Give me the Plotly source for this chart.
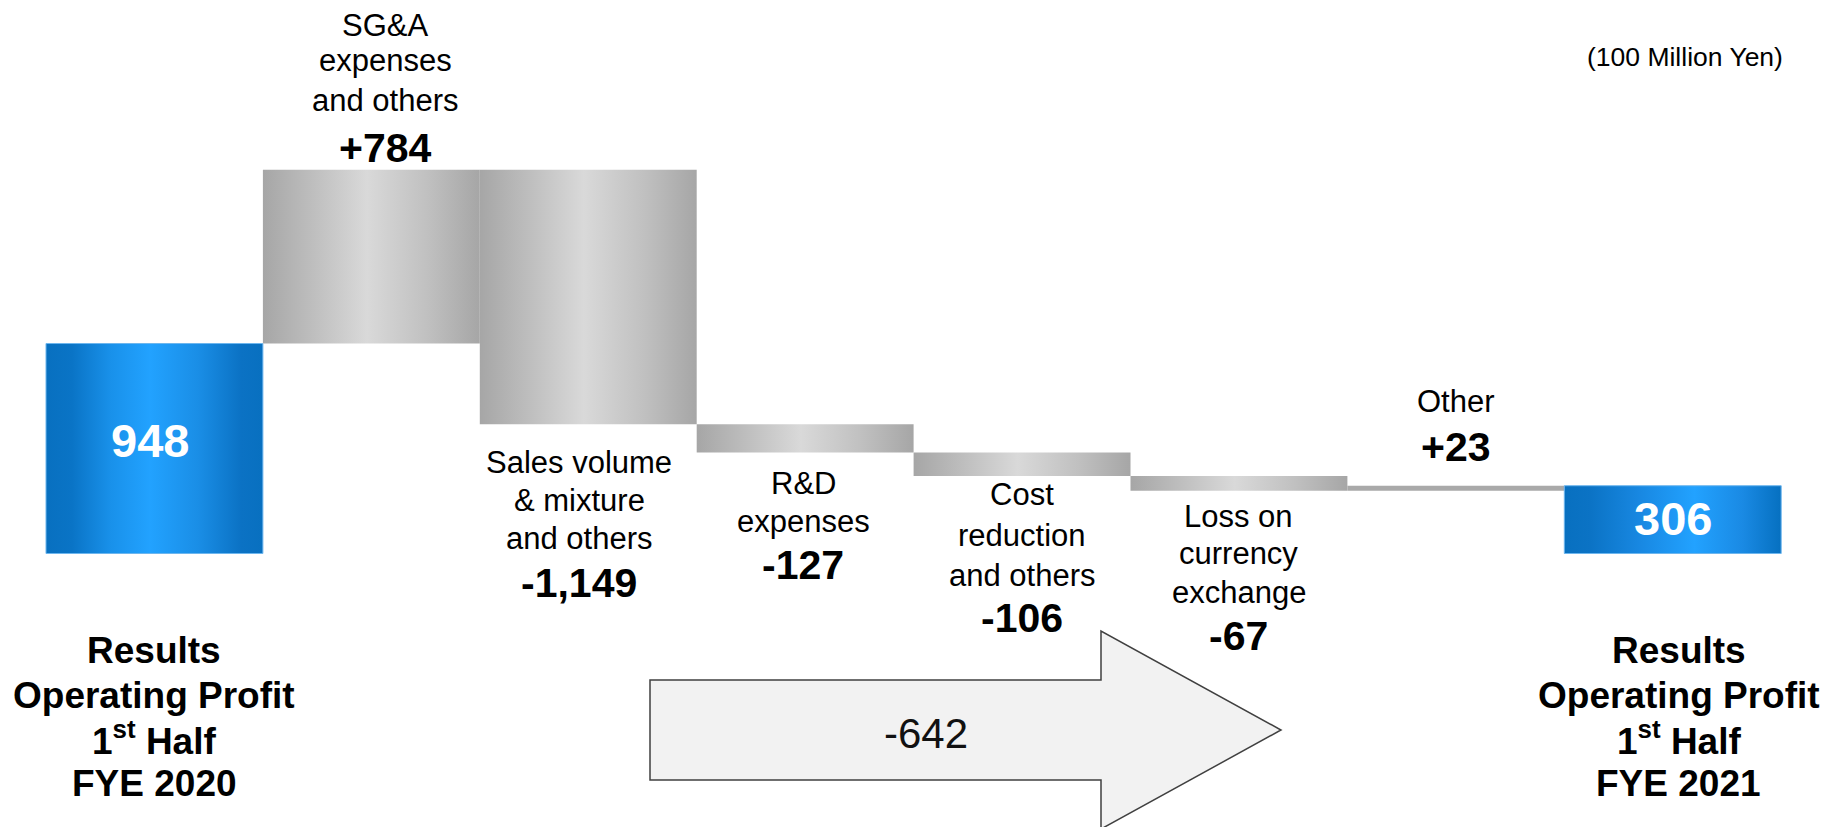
import plotly.graph_objects as go

# ---------------- data ----------------
start_name = "Results<br>Operating Profit<br>1<sup>st</sup> Half<br>FYE 2020"
end_name = "Results<br>Operating Profit<br>1<sup>st</sup> Half<br>FYE 2021"
start_value = 948
step_labels = [
    ["SG&A", "expenses", "and others"],
    ["Sales volume", "& mixture", "and others"],
    ["R&D", "expenses"],
    ["Cost", "reduction", "and others"],
    ["Loss on", "currency", "exchange"],
    ["Other"],
]
step_values = [784, -1149, -127, -106, -67, 23]
end_value = 306
total_change = -642
unit_label = "(100 Million Yen)"

# ---------------- styles ----------------
FONT = "Liberation Sans, Arial, Helvetica, sans-serif"
W, H = 1838, 827
BLUE_START = [[0, "#0870c0"], [0.12, "#0a74c6"], [0.3, "#1991ea"], [0.48, "#22a2ff"],
              [0.7, "#1a8ee6"], [0.9, "#0b72c4"], [1, "#0870c0"]]
BLUE_END = [[0, "#0870c0"], [0.12, "#0b73c5"], [0.35, "#1888e2"], [0.6, "#22a2ff"],
            [0.82, "#1a8ae4"], [1, "#0670c0"]]
GRAY = [[0, "#a6a6a6"], [0.22, "#bdbdbd"], [0.48, "#d9d9d9"], [0.76, "#c0c0c0"], [1, "#a6a6a6"]]

# pixel geometry of the reference (plot area == full figure)
X0_PX, BAR_PX = 46.0, 216.9
Y0_PX, PX_PER_UNIT = 553.5, 0.2215
x_range = [-X0_PX / BAR_PX - 0.5, (W - X0_PX) / BAR_PX - 0.5]
y_range = [-(H - Y0_PX) / PX_PER_UNIT, Y0_PX / PX_PER_UNIT]

fig = go.Figure()


def add_bar(i, lo, hi, scale=None, color=None, outline=None):
    xs = [i - 0.5, i + 0.5, i + 0.5, i - 0.5, i - 0.5]
    ys = [lo, lo, hi, hi, lo]
    kw = {}
    if scale is not None:
        kw["fillgradient"] = dict(type="horizontal", colorscale=scale)
    else:
        kw["fillcolor"] = color
    fig.add_trace(go.Scatter(
        x=xs, y=ys, mode="lines", fill="toself",
        line=dict(width=1 if outline else 0, color=outline or "rgba(0,0,0,0)"),
        hoverinfo="skip", showlegend=False, **kw))


# start bar
add_bar(0, 0, start_value, scale=BLUE_START, outline="#6db6ee")
running = start_value
for k, v in enumerate(step_values):
    lo, hi = sorted([running, running + v])
    if k == len(step_values) - 1:
        add_bar(k + 1, lo, hi, color="#a9a9a9")
    else:
        add_bar(k + 1, lo, hi, scale=GRAY)
    running += v
# end bar
n_end = len(step_values) + 1
add_bar(n_end, 0, end_value, scale=BLUE_END, outline="#6db6ee")

# ---------------- text ----------------
ann = []


def py(p):
    return 1 - p / H


def label(xidx, ypx, text, size, bold=False, color="#000000", xshift=0):
    ann.append(dict(
        x=xidx, y=py(ypx), xref="x", yref="paper", text=f"<b>{text}</b>" if bold else text,
        showarrow=False, xanchor="center", yanchor="middle", xshift=xshift,
        font=dict(family=FONT, size=size, color=color)))


# per-step label layout (line y-centers in px, x-shift in px)
step_line_y = [
    [25, 60, 100, 148],
    [462, 500, 538, 583],
    [483, 521, 565],
    [495, 535, 575, 618],
    [516, 553, 592, 636],
    [402, 447],
]
step_xshift = [14, -9, -2, 0, 0, 0]

for k, (lines, v) in enumerate(zip(step_labels, step_values)):
    ys = step_line_y[k]
    for j, t in enumerate(lines):
        label(k + 1, ys[j], t, 31, xshift=step_xshift[k])
    label(k + 1, ys[len(lines)], f"{v:+,}", 41, bold=True, xshift=step_xshift[k])

# values inside the blue bars
label(0, 440, f"{start_value:,}", 47, bold=True, color="#ffffff", xshift=-4)
label(n_end, 518, f"{end_value:,}", 47, bold=True, color="#ffffff")

# bottom period labels
for idx, name, xs in [(0, start_name, 0), (n_end, end_name, 6)]:
    for j, t in enumerate(name.split("<br>")):
        label(idx, [650, 695, 738, 783][j], t, 37, bold=True, xshift=xs)

# unit label
ann.append(dict(x=1785 / W, y=py(57), xref="paper", yref="paper", text=unit_label,
                showarrow=False, xanchor="right", yanchor="middle",
                font=dict(family=FONT, size=26.5, color="#000000")))

# total change arrow
ax0, ax1, atip = 650 / W, 1101 / W, 1281 / W
s_top, s_bot, h_top, h_bot, a_mid = py(680), py(780), py(631), py(829), py(730)
arrow_path = (f"M {ax0},{s_top} L {ax1},{s_top} L {ax1},{h_top} L {atip},{a_mid} "
              f"L {ax1},{h_bot} L {ax1},{s_bot} L {ax0},{s_bot} Z")
fig.add_shape(type="path", path=arrow_path, xref="paper", yref="paper",
              fillcolor="#f2f2f2", line=dict(color="#404040", width=1.5), layer="below")
ann.append(dict(x=926 / W, y=py(733), xref="paper", yref="paper", text=f"{total_change:,}",
                showarrow=False, xanchor="center", yanchor="middle",
                font=dict(family=FONT, size=42, color="#111111")))

fig.update_layout(
    width=W, height=H, margin=dict(l=0, r=0, t=0, b=0),
    paper_bgcolor="#ffffff", plot_bgcolor="#ffffff",
    xaxis=dict(range=x_range, visible=False, fixedrange=True),
    yaxis=dict(range=y_range, visible=False, fixedrange=True),
    annotations=ann, showlegend=False,
)

fig.write_html("out.html")
